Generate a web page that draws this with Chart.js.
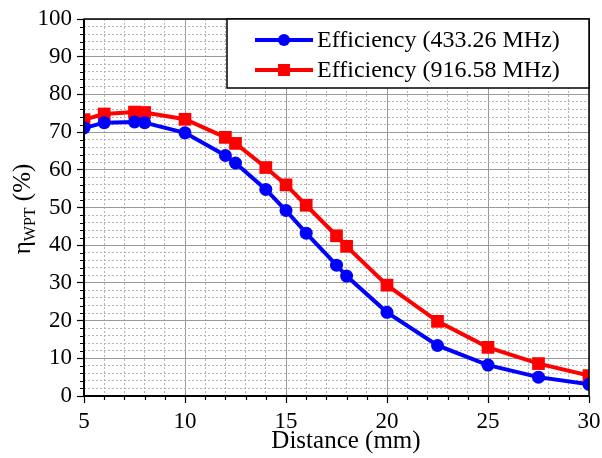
<!DOCTYPE html>
<html>
<head>
<meta charset="utf-8">
<script src="https://cdn.jsdelivr.net/npm/chart.js@4/dist/chart.umd.min.js"></script>
<style>
  html, body { margin: 0; padding: 0; background: #ffffff; }
  #wrap { width: 602px; height: 458px; }
</style>
</head>
<body>
<div id="wrap"><canvas id="c" width="602" height="458"></canvas></div>
<script>
// Measured wireless power transfer efficiency versus distance
const distance = [5, 6, 7.5, 8, 10, 12, 12.5, 14, 15, 16, 17.5, 18, 20, 22.5, 25, 27.5, 30];
const eff433 = [71.1, 72.5, 72.7, 72.5, 69.8, 63.8, 61.8, 54.8, 49.2, 43.2, 34.7, 31.8, 22.2, 13.4, 8.2, 5.0, 3.1];
const eff916 = [73.3, 74.8, 75.3, 75.2, 73.4, 68.6, 67.0, 60.6, 56.0, 50.6, 42.5, 39.7, 29.4, 19.8, 12.9, 8.6, 5.4];
const seriesNames = ['Efficiency (433.26 MHz)', 'Efficiency (916.58 MHz)'];
const xMajorTicks = [5, 10, 15, 20, 25, 30];
const yMajorTicks = [0, 10, 20, 30, 40, 50, 60, 70, 80, 90, 100];
const xTitle = 'Distance (mm)';
const yTitleParts = ['\u03b7', 'WPT', ' (%)'];

const SERIF = '"Liberation Serif", "Times New Roman", serif';
const BLUE = '#0000ff';
const RED = '#ff0000';

const isMajorX = v => xMajorTicks.includes(v);
const isMajorY = v => yMajorTicks.includes(v);

function pts(xs, ys) { return xs.map((x, i) => ({ x: x, y: ys[i] })); }

// Frame, minor ticks, axis titles and the boxed legend
const decorations = {
  id: 'decorations',
  afterDatasetsDraw(chart) {
    const { ctx, chartArea: a, scales: { x, y } } = chart;
    ctx.save();
    // minor tick marks outside the axes
    ctx.strokeStyle = '#000';
    ctx.lineWidth = 1.2;
    ctx.beginPath();
    for (let v = 5; v <= 30; v++) {
      if (isMajorX(v)) continue;
      const px = Math.round(x.getPixelForValue(v)) + 0.5;
      ctx.moveTo(px, a.bottom); ctx.lineTo(px, a.bottom + 4);
    }
    for (let v = 0; v <= 100; v += 2) {
      if (isMajorY(v)) continue;
      const py = Math.round(y.getPixelForValue(v)) + 0.5;
      ctx.moveTo(a.left, py); ctx.lineTo(a.left - 4, py);
    }
    ctx.stroke();
    // plot frame
    ctx.lineWidth = 1.5;
    ctx.strokeRect(a.left, a.top, a.right - a.left, a.bottom - a.top);
    ctx.lineWidth = 2;
    ctx.beginPath();
    ctx.moveTo(a.left, a.top); ctx.lineTo(a.left, a.bottom); ctx.lineTo(a.right, a.bottom);
    ctx.stroke();

    // x axis title
    ctx.fillStyle = '#000';
    ctx.font = '25px ' + SERIF;
    ctx.textAlign = 'center';
    ctx.textBaseline = 'alphabetic';
    ctx.fillText(xTitle, 346, 448);

    // y axis title with subscript
    ctx.save();
    ctx.translate(30, 209);
    ctx.rotate(-Math.PI / 2);
    const big = '25px ' + SERIF, small = '16px ' + SERIF;
    ctx.font = big; const w0 = ctx.measureText(yTitleParts[0]).width;
    ctx.font = small; const w1 = ctx.measureText(yTitleParts[1]).width;
    ctx.font = big; const w2 = ctx.measureText(yTitleParts[2]).width;
    let cx = -(w0 + w1 + w2) / 2;
    ctx.textAlign = 'left';
    ctx.font = big; ctx.fillText(yTitleParts[0], cx, 0); cx += w0;
    ctx.font = small; ctx.fillText(yTitleParts[1], cx, 5); cx += w1;
    ctx.font = big; ctx.fillText(yTitleParts[2], cx, 0);
    ctx.restore();

    // legend box
    const lx = 227, ly = a.top, lw = a.right - 227, lh = 69;
    ctx.fillStyle = '#fff';
    ctx.fillRect(lx, ly, lw, lh);
    ctx.strokeStyle = '#000';
    ctx.lineWidth = 1.5;
    ctx.strokeRect(lx, ly, lw, lh);
    const rows = [40, 70];
    chart.data.datasets.forEach((ds, i) => {
      const ry = rows[i];
      ctx.strokeStyle = ds.borderColor;
      ctx.lineWidth = 4;
      ctx.beginPath(); ctx.moveTo(255, ry); ctx.lineTo(313, ry); ctx.stroke();
      ctx.fillStyle = ds.backgroundColor;
      if (ds.pointStyle === 'rect') {
        ctx.fillRect(284 - 6, ry - 6, 12, 12);
      } else {
        ctx.beginPath(); ctx.arc(284, ry, 6, 0, Math.PI * 2); ctx.fill();
      }
      ctx.fillStyle = '#000';
      ctx.font = '24px ' + SERIF;
      ctx.textAlign = 'left';
      ctx.textBaseline = 'middle';
      ctx.fillText(ds.label, 317, ry + 1);
    });
    ctx.restore();
  }
};

new Chart(document.getElementById('c'), {
  type: 'line',
  data: {
    datasets: [
      {
        label: seriesNames[0],
        data: pts(distance, eff433),
        borderColor: BLUE,
        backgroundColor: BLUE,
        borderWidth: 4,
        pointStyle: 'circle',
        pointRadius: 6.5,
        pointBorderWidth: 0,
        tension: 0,
        clip: { left: 0, right: 0, top: 0, bottom: 0 }
      },
      {
        label: seriesNames[1],
        data: pts(distance, eff916),
        borderColor: RED,
        backgroundColor: RED,
        borderWidth: 4,
        pointStyle: 'rect',
        pointRadius: 9,
        pointBorderWidth: 0,
        tension: 0,
        clip: { left: 0, right: 0, top: 0, bottom: 0 }
      }
    ]
  },
  options: {
    responsive: false,
    animation: false,
    events: [],
    layout: { padding: { top: 19, right: 13, left: 0, bottom: 0 } },
    plugins: { legend: { display: false }, tooltip: { enabled: false } },
    scales: {
      x: {
        type: 'linear',
        min: 5, max: 30,
        afterFit: s => { s.height = 62; s.paddingLeft = 0; s.paddingRight = 0; },
        afterBuildTicks: s => {
          const t = [];
          for (let v = 5; v <= 30; v++) t.push({ value: v });
          s.ticks = t;
        },
        ticks: {
          autoSkip: false, maxRotation: 0, padding: 5,
          color: '#000',
          font: { family: SERIF, size: 23 },
          callback: v => (isMajorX(v) ? String(v) : '')
        },
        grid: {
          color: c => (c.tick && isMajorX(c.tick.value) ? '#9a9a9a' : '#b4b4b4'),
          lineWidth: 1,
          tickLength: 7,
          tickWidth: 1.2,
          tickColor: c => (c.tick && isMajorX(c.tick.value) ? '#000' : 'rgba(0,0,0,0)')
        },
        border: {
          display: false,
          dash: c => (c.tick && !isMajorX(c.tick.value) ? [2, 2] : [])
        }
      },
      y: {
        type: 'linear',
        min: 0, max: 100,
        afterFit: s => { s.width = 84; s.paddingTop = 0; s.paddingBottom = 0; },
        afterBuildTicks: s => {
          const t = [];
          for (let v = 0; v <= 100; v += 2) t.push({ value: v });
          s.ticks = t;
        },
        ticks: {
          autoSkip: false, padding: 5,
          color: '#000',
          font: { family: SERIF, size: 23 },
          callback: v => (isMajorY(v) ? String(v) : '')
        },
        grid: {
          color: c => (c.tick && isMajorY(c.tick.value) ? '#9a9a9a' : '#b4b4b4'),
          lineWidth: 1,
          tickLength: 7,
          tickWidth: 1.2,
          tickColor: c => (c.tick && isMajorY(c.tick.value) ? '#000' : 'rgba(0,0,0,0)')
        },
        border: {
          display: false,
          dash: c => (c.tick && !isMajorY(c.tick.value) ? [2, 2] : [])
        }
      }
    }
  },
  plugins: [decorations]
});
</script>
</body>
</html>
